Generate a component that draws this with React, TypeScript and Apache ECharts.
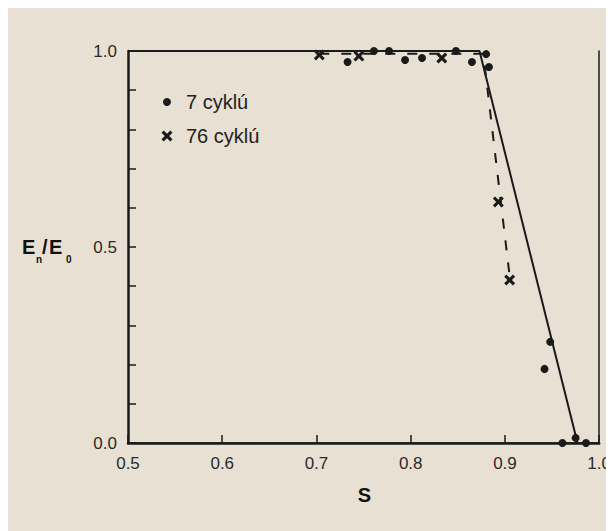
import React, { useEffect, useRef } from "react";
import * as echarts from "echarts";

// 7 cycles (dots)
const s7 = [0.733, 0.761, 0.777, 0.794, 0.812, 0.848, 0.865, 0.880, 0.883, 0.942, 0.948, 0.961, 0.975, 0.986];
const e7 = [0.972, 1.0, 1.0, 0.977, 0.982, 1.0, 0.972, 0.992, 0.959, 0.189, 0.258, 0.0, 0.013, 0.0];
// 76 cycles (crosses)
const s76 = [0.703, 0.745, 0.833, 0.893, 0.905];
const e76 = [0.99, 0.987, 0.982, 0.615, 0.416];
// fitted lines
const fit7S = [0.5, 0.873, 0.977];
const fit7E = [1.0, 1.0, 0.0];
const fit76S = [0.703, 0.877, 0.906];
const fit76E = [0.993, 0.993, 0.405];

const xTicks = [0.5, 0.6, 0.7, 0.8, 0.9, 1.0];
const yLabelled = [0.0, 0.5, 1.0];
const legendNames = ["7 cyklú", "76 cyklú"];

const INK = "#1a1a1a";
const FONT = "Liberation Sans, Arial, sans-serif";
const CROSS = "path://M0 2L2 0L5 3L8 0L10 2L7 5L10 8L8 10L5 7L2 10L0 8L3 5Z";
const crossPts = [
  [0, 2], [2, 0], [5, 3], [8, 0], [10, 2], [7, 5], [10, 8], [8, 10], [5, 7], [2, 10], [0, 8], [3, 5],
].map(([a, b]) => [(a - 5) * 1.1, (b - 5) * 1.1]);

export default function App() {
  const ref = useRef<HTMLDivElement>(null);
  useEffect(() => {
    if (!ref.current) return;
    const chart = echarts.init(ref.current, null, { renderer: "svg" });
    const pair = (a: number[], b: number[]) => a.map((v, i) => [v, b[i]]);
    chart.setOption({
      animation: false,
      backgroundColor: "transparent",
      grid: { left: 120, top: 43, right: 13, bottom: 88, containLabel: false },
      xAxis: [
        {
          type: "value", min: 0.5, max: 1.0, interval: 0.1,
          axisLine: { show: true, lineStyle: { color: INK, width: 1.5 } },
          axisTick: { show: true, inside: true, length: 8, lineStyle: { color: INK, width: 1.5 } },
          splitLine: { show: false },
          axisLabel: {
            color: "#2a2a2a", fontSize: 17, fontFamily: FONT, margin: 12,
            formatter: (v: number) => (xTicks.some((t) => Math.abs(t - v) < 1e-6) ? v.toFixed(1) : ""),
          },
        },
        {
          type: "value", min: 0.5, max: 1.0, position: "top",
          axisLine: { show: true, lineStyle: { color: INK, width: 2.5 } },
          axisTick: { show: false }, axisLabel: { show: false }, splitLine: { show: false },
        },
      ],
      yAxis: [
        {
          type: "value", min: 0, max: 1.0, interval: 0.1,
          axisLine: { show: true, lineStyle: { color: INK, width: 2.5 } },
          axisTick: { show: true, inside: true, length: 8, lineStyle: { color: INK, width: 1.5 } },
          splitLine: { show: false },
          axisLabel: {
            color: "#2a2a2a", fontSize: 17, fontFamily: FONT, margin: 11,
            formatter: (v: number) => (yLabelled.some((t) => Math.abs(t - v) < 1e-6) ? v.toFixed(1) : ""),
          },
        },
        {
          type: "value", min: 0, max: 1.0, position: "right",
          axisLine: { show: true, lineStyle: { color: INK, width: 1.5 } },
          axisTick: { show: false }, axisLabel: { show: false }, splitLine: { show: false },
        },
      ],
      series: [
        {
          type: "line", data: pair(fit7S, fit7E), showSymbol: false, symbol: "none",
          lineStyle: { color: INK, width: 2 }, z: 2,
        },
        {
          type: "line", data: pair(fit76S, fit76E), showSymbol: false, symbol: "none",
          lineStyle: { color: INK, width: 2, type: [10, 12] }, z: 2,
        },
        {
          name: legendNames[0], type: "scatter", data: pair(s7, e7), symbol: "circle", symbolSize: 8,
          itemStyle: { color: INK, opacity: 1 }, clip: false, z: 3,
        },
        {
          name: legendNames[1], type: "scatter", data: pair(s76, e76), symbol: CROSS, symbolSize: 11,
          itemStyle: { color: INK, opacity: 1 }, clip: false, z: 3,
        },
      ],
      graphic: [
        { type: "circle", shape: { cx: 159, cy: 94, r: 4 }, style: { fill: INK } },
        { type: "polygon", x: 159, y: 128, shape: { points: crossPts }, style: { fill: INK } },
        {
          type: "text", x: 178, y: 94,
          style: { text: legendNames[0], fontSize: 20, fontFamily: FONT, fill: "#222", verticalAlign: "middle", align: "left" },
        },
        {
          type: "text", x: 178, y: 128,
          style: { text: legendNames[1], fontSize: 20, fontFamily: FONT, fill: "#222", verticalAlign: "middle", align: "left" },
        },
        { type: "text", x: 14, y: 239, style: { text: "E", fontSize: 20, fontWeight: "bold", fontFamily: FONT, fill: "#111", verticalAlign: "middle" } },
        { type: "text", x: 28, y: 251, style: { text: "n", fontSize: 10, fontWeight: "bold", fontFamily: FONT, fill: "#111", verticalAlign: "middle" } },
        { type: "text", x: 34, y: 239, style: { text: "/", fontSize: 20, fontWeight: "bold", fontFamily: FONT, fill: "#111", verticalAlign: "middle" } },
        { type: "text", x: 41, y: 239, style: { text: "E", fontSize: 20, fontWeight: "bold", fontFamily: FONT, fill: "#111", verticalAlign: "middle" } },
        { type: "text", x: 58, y: 251, style: { text: "0", fontSize: 10, fontWeight: "bold", fontFamily: FONT, fill: "#111", verticalAlign: "middle" } },
        { type: "text", x: 356.5, y: 487, style: { text: "S", fontSize: 20, fontWeight: "bold", fontFamily: FONT, fill: "#111", verticalAlign: "middle", align: "center" } },
      ],
    });
    return () => chart.dispose();
  }, []);
  return <div ref={ref} style={{ width: 606, height: 523, background: "#e8e1d3" }} />;
}
